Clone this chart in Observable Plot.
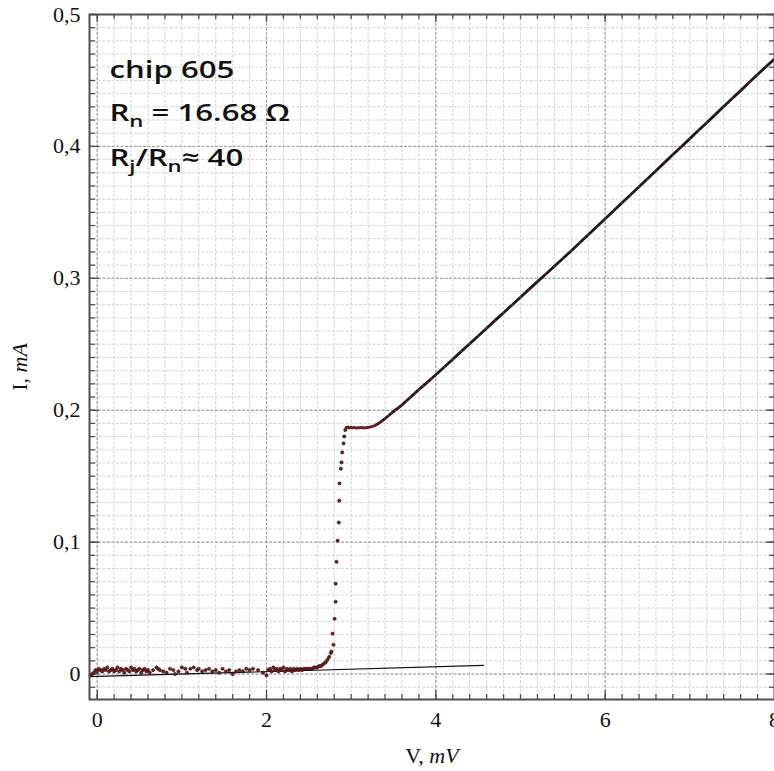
<!DOCTYPE html>
<html><head><meta charset="utf-8">
<script src="https://cdn.jsdelivr.net/npm/d3@7"></script>
<script src="https://cdn.jsdelivr.net/npm/@observablehq/plot@0.6"></script>
<style>body{margin:0;background:#fff}</style>
</head><body><div id="chart"></div>
<script>
// ---- data ----
const xTicks = [0, 2, 4, 6, 8];
const yTicks = [0, 0.1, 0.2, 0.3, 0.4, 0.5];
const xMinor = d3.range(0, 8.001, 0.2);
const yMinor = d3.range(-0.01, 0.5001, 0.01);

// sub-gap region (noisy)
const lowV = [-0.08,-0.06,-0.04,-0.02,0.00,0.02,0.04,0.06,0.08,0.10,0.12,0.14,0.16,0.18,0.20,0.22,0.24,0.26,0.28,0.30,0.32,0.34,0.36,0.38,0.40,0.42,0.44,0.46,0.48,0.50,0.52,0.54,0.56,0.58,0.60,0.62,0.66,0.70,0.72,0.74,0.78,0.82,0.86,0.90,0.92,0.96,1.00,1.04,1.06,1.10,1.14,1.18,1.20,1.24,1.28,1.32,1.36,1.40,1.44,1.48,1.52,1.56,1.60,1.64,1.68,1.72,1.76,1.80,1.84,1.90,1.96,2.00,2.02,2.04,2.06,2.08,2.10,2.12,2.14,2.16,2.18,2.20,2.22,2.24,2.26,2.28,2.30,2.32,2.34,2.36,2.38,2.40,2.42,2.44,2.46,2.48,2.50,2.52,2.54,2.56,2.58,2.60,2.62,2.64,2.66,2.68,2.70,2.72,2.74,2.76];
const lowI = [-0.001,0.000,0.001,0.003,0.002,0.004,0.003,0.002,0.004,0.003,0.005,0.002,0.003,0.004,0.002,0.003,0.005,0.002,0.004,0.003,0.001,0.004,0.003,0.002,0.005,0.003,0.004,0.002,0.003,0.004,0.001,0.003,0.004,0.002,0.003,0.001,0.003,0.005,0.004,0.003,0.002,0.001,0.004,0.003,0.000,0.002,0.005,0.004,0.001,0.004,0.005,0.003,0.004,0.002,0.003,0.004,0.002,0.003,0.001,0.004,0.002,0.003,0.000,0.002,0.003,0.002,0.004,0.003,0.004,0.003,0.001,-0.001,0.003,0.004,0.002,0.005,0.003,0.004,0.002,0.004,0.003,0.005,0.002,0.004,0.003,0.004,0.002,0.004,0.003,0.004,0.003,0.004,0.003,0.004,0.004,0.004,0.004,0.004,0.004,0.005,0.005,0.005,0.006,0.006,0.007,0.008,0.009,0.011,0.013,0.016];

// gap-voltage jump
const transV = [2.768,2.791,2.780,2.804,2.816,2.816,2.827,2.839,2.854,2.859,2.862,2.878,2.886,2.894,2.910,2.918,2.930];
const transI = [0.0171,0.0222,0.0306,0.0419,0.0548,0.0685,0.0851,0.1011,0.1149,0.1314,0.1445,0.1557,0.1604,0.1680,0.1748,0.1801,0.1850];

// plateau, knee and ohmic branch
const ohmV = [2.94,2.96,2.98,3.00,3.02,3.04,3.06,3.08,3.10,3.12,3.14,3.16,3.18,3.20,3.22,3.24,3.26,3.28,3.30,3.33,3.36,3.40,3.44,3.48,3.52,3.56,3.60,3.65,3.70,3.75,3.80,3.85,3.90,3.95,4.00,4.1,4.2,4.3,4.4,4.5,4.6,4.7,4.8,4.9,5.0,5.1,5.2,5.3,5.4,5.5,5.6,5.7,5.8,5.9,6.0,6.1,6.2,6.3,6.4,6.5,6.6,6.7,6.8,6.9,7.0,7.1,7.2,7.3,7.4,7.5,7.6,7.7,7.8,7.9,8.0];
const ohmI = [0.1868,0.1872,0.1866,0.1870,0.1867,0.1869,0.1865,0.1868,0.1866,0.1869,0.1867,0.1866,0.1868,0.1870,0.1872,0.1875,0.1879,0.1884,0.1891,0.1903,0.1917,0.1937,0.1958,0.1980,0.2000,0.2020,0.2040,0.2070,0.2099,0.2128,0.2157,0.2185,0.2213,0.2241,0.2269,0.2328,0.2387,0.2446,0.2504,0.2563,0.2622,0.2681,0.2739,0.2798,0.2857,0.2916,0.2975,0.3033,0.3092,0.3150,0.3209,0.3270,0.3331,0.3391,0.3452,0.3513,0.3573,0.3634,0.3695,0.3755,0.3816,0.3877,0.3938,0.3998,0.4059,0.4120,0.4180,0.4241,0.4302,0.4363,0.4423,0.4484,0.4545,0.4605,0.4663];

// sub-gap resistance line (Rj)
const fitV = [-0.09, 4.563];
const fitI = [-0.002, 0.0065];

// ---- tables ----
const low = lowV.map((v,i)=>({v, c: lowI[i]}));
const trans = transV.map((v,i)=>({v, c: transI[i]}));
const ohm = ohmV.map((v,i)=>({v, c: ohmI[i]}));
const fit = fitV.map((v,i)=>({v, c: fitI[i]}));

const W = 774, H = 771, mT = 14, mB = 72, mL = 89, mR = 0;
const innerH = H - mT - mB, innerW = W - mL - mR;
const serif = "Liberation Serif, Times New Roman, serif";
const fmtY = d => d === 0 ? "0" : d.toFixed(1).replace(".", ",");

const minorGrid = {stroke: "#d4d4d4", strokeWidth: 1, strokeDasharray: "3,1.5"};
const majorGrid = {stroke: "#9a9a9a", strokeWidth: 1, strokeDasharray: "3,1.5"};
const tickStyle = {stroke: "#505050", strokeWidth: 1.3};

const plot = Plot.plot({
  width: W, height: H,
  marginTop: mT, marginBottom: mB, marginLeft: mL, marginRight: mR,
  style: {background: "#fff", overflow: "visible"},
  x: {domain: [-0.091, 8.0]},
  y: {domain: [-0.0193, 0.5]},
  marks: [
    Plot.ruleX(xMinor, {x: d => d, ...minorGrid}),
    Plot.ruleY(yMinor, {y: d => d, ...minorGrid}),
    Plot.ruleX(xTicks, {x: d => d, ...majorGrid}),
    Plot.ruleY(yTicks, {y: d => d, ...majorGrid}),
    // inner ticks
    Plot.tickX(xMinor, {x: d => d, insetTop: innerH - 5, ...tickStyle}),
    Plot.tickX(xTicks, {x: d => d, insetTop: innerH - 9, ...tickStyle}),
    Plot.tickX(xMinor, {x: d => d, insetBottom: innerH - 5, ...tickStyle}),
    Plot.tickX(xTicks, {x: d => d, insetBottom: innerH - 8, ...tickStyle}),
    Plot.tickY(yMinor, {y: d => d, insetRight: innerW - 6, ...tickStyle}),
    Plot.tickY(yTicks, {y: d => d, insetRight: innerW - 10, ...tickStyle}),
    Plot.tickY(yMinor, {y: d => d, insetLeft: innerW - 5, ...tickStyle}),
    Plot.tickY(yTicks, {y: d => d, insetLeft: innerW - 8, ...tickStyle}),
    // data
    Plot.line(fit, {x: "v", y: "c", stroke: "#111", strokeWidth: 1.2}),
    Plot.line(ohm, {x: "v", y: "c", stroke: "#1a1a1a", strokeWidth: 2.8}),
    Plot.dot(ohm, {x: "v", y: "c", r: 0.9, fill: "#b01818", stroke: "none"}),
    Plot.dot(low, {x: "v", y: "c", r: 1.6, fill: "#8b1a1a", stroke: "#111", strokeWidth: 0.6}),
    Plot.dot(trans, {x: "v", y: "c", r: 1.6, fill: "#8b1a1a", stroke: "#111", strokeWidth: 0.6}),
    Plot.frame({stroke: "#505050", strokeWidth: 2}),
    Plot.axisX(xTicks, {tickSize: 0, tickPadding: 12, fontSize: 22, fontFamily: serif, label: null, fill: "#111"}),
    Plot.axisY(yTicks, {tickSize: 0, tickPadding: 9, fontSize: 22, fontFamily: serif, label: null, tickFormat: fmtY, fill: "#111"})
  ]
});

document.getElementById("chart").appendChild(plot);
const svg = d3.select(plot);
const sx = plot.scale("x").apply, sy = plot.scale("y").apply;

// axis labels
const yl = svg.append("text")
  .attr("transform", `translate(22,367) rotate(-90)`)
  .attr("text-anchor", "middle").attr("dominant-baseline", "middle")
  .attr("font-family", serif).attr("font-size", 22).attr("fill", "#111");
yl.append("tspan").text("I, ");
yl.append("tspan").attr("font-style", "italic").text("mA");

const xl = svg.append("text")
  .attr("x", 432).attr("y", 758)
  .attr("text-anchor", "middle").attr("dominant-baseline", "middle")
  .attr("font-family", serif).attr("font-size", 22).attr("fill", "#111");
xl.append("tspan").text("V, ");
xl.append("tspan").attr("font-style", "italic").text("mV");

// annotation
const annFont = "Open Sans, Noto Sans, sans-serif";
const ax = sx(0.15);
function ann(y, parts) {
  const t = svg.append("text")
    .attr("transform", `translate(${ax},${y}) scale(1.3,1)`)
    .attr("text-anchor", "start")
    .attr("font-family", annFont).attr("font-weight", 600)
    .attr("font-size", 24).attr("fill", "#111");
  parts.forEach(([s, sub], i) => {
    const prev = i > 0 ? parts[i-1][1] : false;
    const sp = t.append("tspan").text(s)
      .attr("dy", sub && !prev ? 6 : (!sub && prev ? -6 : 0));
    if (sub) sp.attr("font-size", 17);
  });
}
ann(78, [["chip 605", false]]);
ann(121, [["R", false], ["n", true], [" = 16.68 Ω", false]]);
ann(166, [["R", false], ["j", true], ["/R", false], ["n", true], ["≈ 40", false]]);
</script>
</body></html>
